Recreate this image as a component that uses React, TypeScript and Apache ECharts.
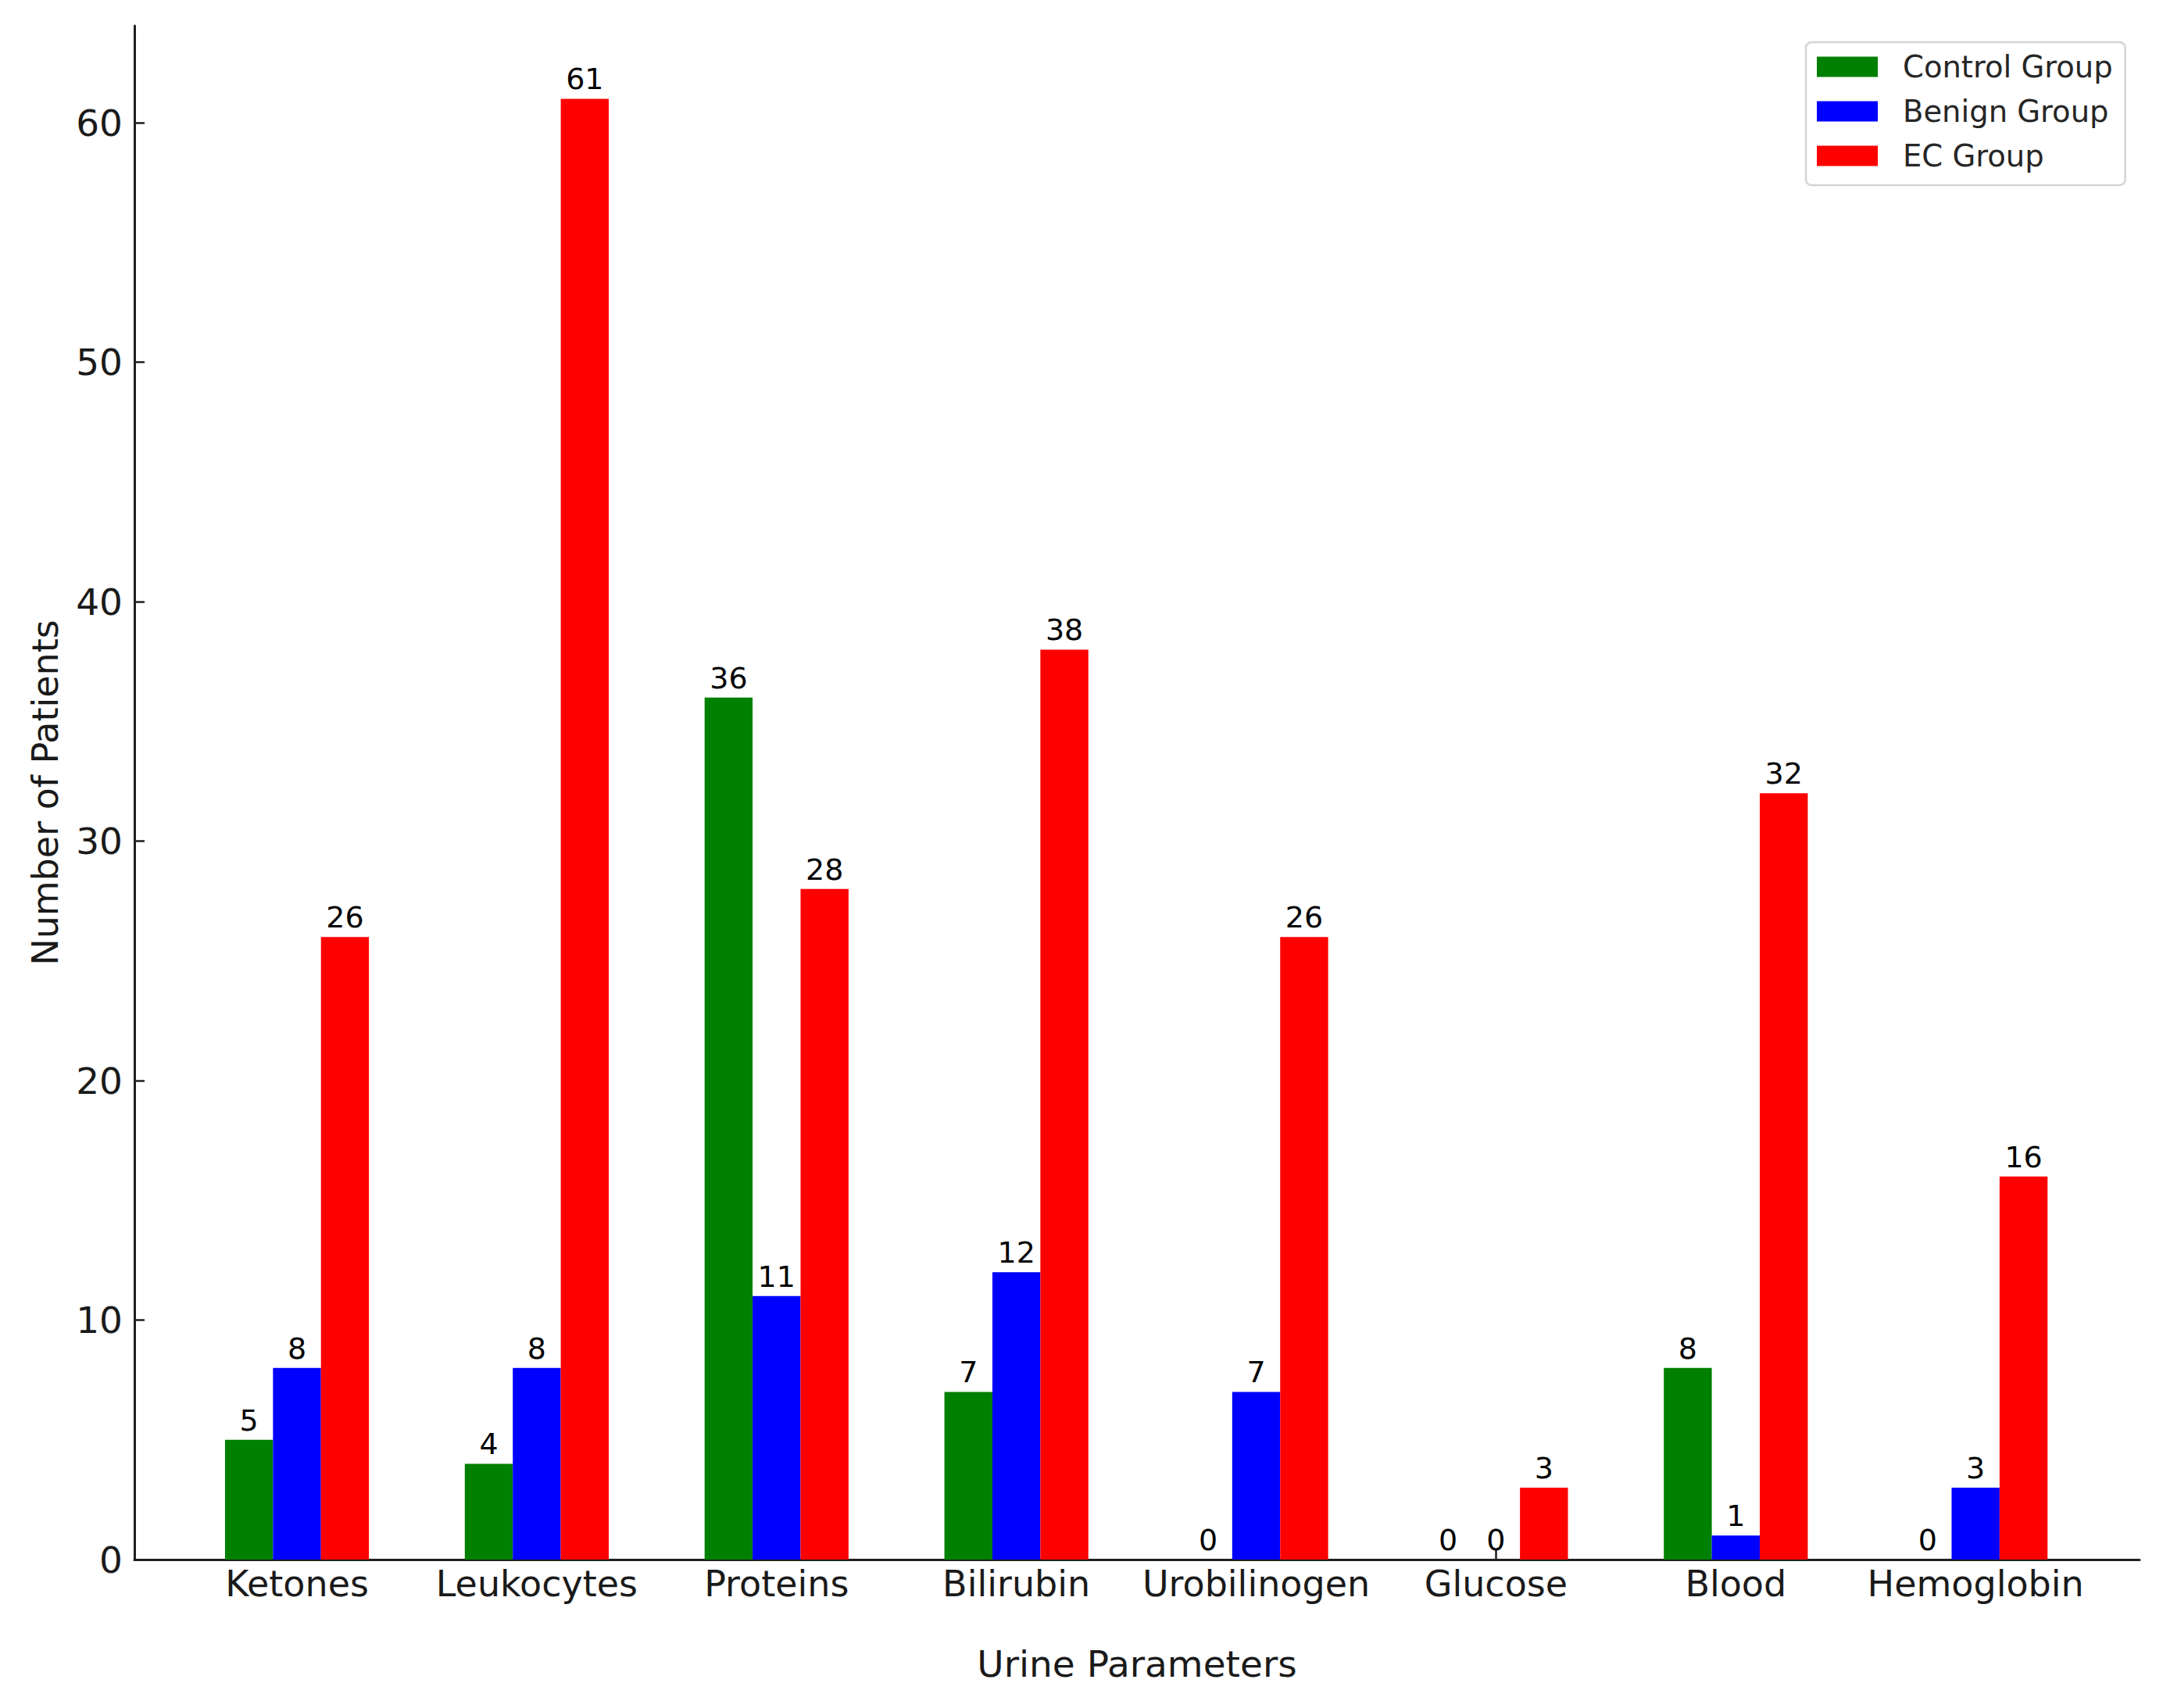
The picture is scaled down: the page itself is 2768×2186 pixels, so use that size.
import React, { useEffect, useRef } from "react";
import * as echarts from "echarts";

const categories = ["Ketones", "Leukocytes", "Proteins", "Bilirubin", "Urobilinogen", "Glucose", "Blood", "Hemoglobin"];
const controlGroup = [5, 4, 36, 7, 0, 0, 8, 0];
const benignGroup = [8, 8, 11, 12, 7, 0, 1, 3];
const ecGroup = [26, 61, 28, 38, 26, 3, 32, 16];
const yTicks = [0, 10, 20, 30, 40, 50, 60];
const seriesNames = ["Control Group", "Benign Group", "EC Group"];
const seriesColors = ["#008000", "#0000ff", "#ff0000"];

const FONT = "DejaVu Sans";
const Y_MAX = 64.05;

export default function App() {
  const ref = useRef<HTMLDivElement>(null);
  useEffect(() => {
    if (!ref.current) return;
    const chart = echarts.init(ref.current, null, { renderer: "svg" });
    const values = [controlGroup, benignGroup, ecGroup];
    const axisColor = "#1f1f1f";
    chart.setOption({
      animation: false,
      backgroundColor: "#ffffff",
      textStyle: { fontFamily: FONT },
      legend: {
        orient: "vertical",
        left: 2311,
        top: 54,
        data: seriesNames,
        icon: "rect",
        itemWidth: 78,
        itemHeight: 26,
        itemGap: 18,
        padding: [12, 16, 18, 14],
        borderColor: "#d4d4d4",
        borderWidth: 2.5,
        borderRadius: 7,
        backgroundColor: "rgba(255,255,255,0.8)",
        textStyle: { fontFamily: FONT, fontSize: 38.5, color: "#262626", padding: [0, 0, 0, 27] },
      },
      grid: [
        { left: 172, right: 30, top: 33, bottom: 190 },
        { left: 226.6, right: 86.4, top: 33, bottom: 190 },
      ],
      xAxis: [
        {
          type: "value",
          gridIndex: 0,
          min: 0,
          max: 1,
          axisLine: { show: true, lineStyle: { color: axisColor, width: 3 } },
          axisTick: { show: false },
          axisLabel: { show: false },
          splitLine: { show: false },
          name: "Urine Parameters",
          nameLocation: "middle",
          nameGap: 110,
          nameTextStyle: { fontFamily: FONT, fontSize: 47, color: "#1a1a1a" },
        },
        {
          type: "category",
          gridIndex: 1,
          data: categories,
          axisLine: { show: false },
          axisTick: {
            show: true,
            inside: true,
            alignWithLabel: true,
            interval: 0,
            length: 13,
            lineStyle: { color: axisColor, width: 2.5 },
          },
          axisLabel: { fontFamily: FONT, fontSize: 46, color: "#1a1a1a", margin: 8, interval: 0 },
          splitLine: { show: false },
        },
      ],
      yAxis: [
        {
          type: "value",
          gridIndex: 0,
          min: 0,
          max: Y_MAX,
          interval: 10,
          axisLine: { show: true, lineStyle: { color: axisColor, width: 3 } },
          axisTick: {
            show: true,
            inside: true,
            length: 13,
            customValues: yTicks,
            lineStyle: { color: axisColor, width: 2.5 },
          },
          axisLabel: {
            fontFamily: FONT,
            fontSize: 47,
            color: "#1a1a1a",
            margin: 15,
            customValues: yTicks,
          },
          splitLine: { show: false },
          name: "Number of Patients",
          nameLocation: "middle",
          nameGap: 91,
          nameRotate: 90,
          nameTextStyle: { fontFamily: FONT, fontSize: 46, color: "#1a1a1a" },
        },
        {
          type: "value",
          gridIndex: 1,
          min: 0,
          max: Y_MAX,
          show: false,
        },
      ],
      series: seriesNames.map((name, i) => ({
        name,
        type: "bar",
        xAxisIndex: 1,
        yAxisIndex: 1,
        data: values[i],
        barWidth: 61.4,
        barGap: "0%",
        itemStyle: { color: seriesColors[i] },
        label: {
          show: true,
          position: "top",
          distance: 6,
          fontFamily: FONT,
          fontSize: 38,
          color: "#000000",
        },
      })),
    });
    return () => chart.dispose();
  }, []);
  return (
    <div
      ref={ref}
      style={{ position: "fixed", left: 0, top: 0, width: 2768, height: 2186, background: "#fff" }}
    />
  );
}
